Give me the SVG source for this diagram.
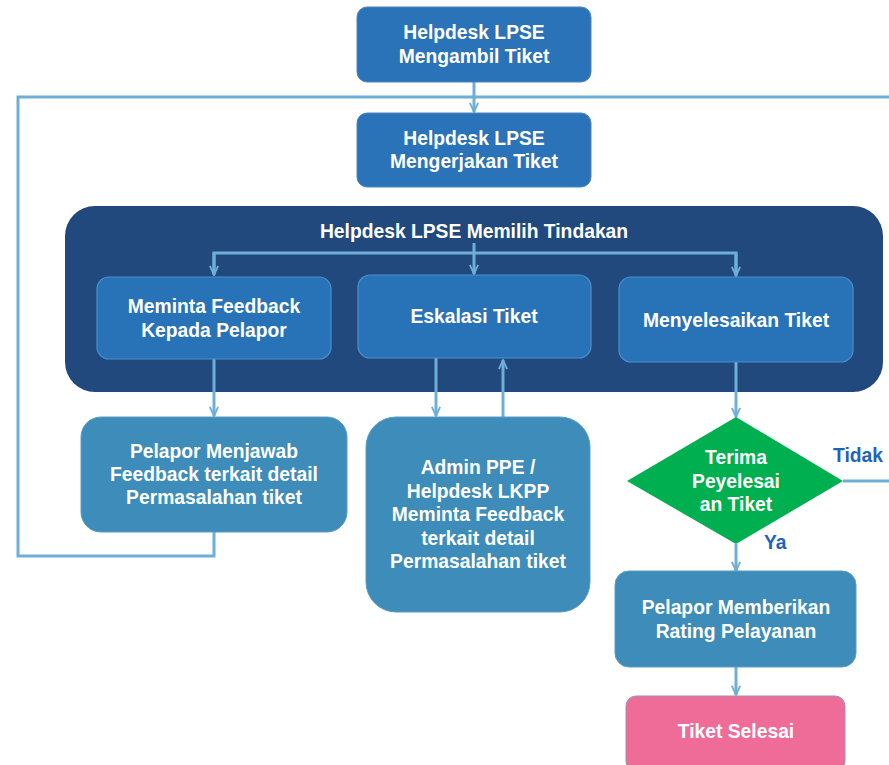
<svg xmlns="http://www.w3.org/2000/svg" width="889" height="765" viewBox="0 0 889 765">
<defs>
<marker id="arr" viewBox="0 0 12 12" refX="11" refY="6" markerWidth="11" markerHeight="11" orient="auto" markerUnits="userSpaceOnUse">
<path d="M1,1.5 L11,6 L1,10.5" fill="none" stroke="#6FAED6" stroke-width="2"/>
</marker>
</defs>
<style>
text{font-family:"Liberation Sans",Arial,sans-serif;font-weight:bold;fill:#fff;text-anchor:middle;font-size:19.3px}
.dark{fill:#2A73B8;stroke:#4A86C0;stroke-width:1}
.cont{fill:#21497E}
.inner{fill:#2872B8;stroke:#4C8FC9;stroke-width:1.2}
.light{fill:#3E8CB9;stroke:#5A9CC6;stroke-width:1}
.dia{fill:#00B050}
.pink{fill:#F06C98;stroke:#9B90B0;stroke-width:1}
.con{fill:none;stroke:#6FAED6;stroke-width:3}
.lbl{fill:#1F63B8;text-anchor:start}
</style>
<rect width="889" height="765" fill="#fff"/>
<g id="container">
<rect class="cont" x="65" y="206" width="818" height="186" rx="30"/>
<text x="474" y="238">Helpdesk LPSE Memilih Tindakan</text>
</g>
<g id="connectors">
<polyline class="con" points="214,532 214,556 18,556 18,97 889,97"/>
<line class="con" x1="474" y1="82" x2="474" y2="112" marker-end="url(#arr)"/>
<polyline class="con" points="474,243 474,253"/>
<polyline class="con" points="214,274 214,253 736,253 736,274"/>
<line class="con" x1="214" y1="253" x2="214" y2="275" marker-end="url(#arr)"/>
<line class="con" x1="474" y1="253" x2="474" y2="274" marker-end="url(#arr)"/>
<line class="con" x1="736" y1="253" x2="736" y2="276" marker-end="url(#arr)"/>
<line class="con" x1="214" y1="359" x2="214" y2="416" marker-end="url(#arr)"/>
<line class="con" x1="436" y1="358" x2="436" y2="416" marker-end="url(#arr)"/>
<line class="con" x1="503" y1="417" x2="503" y2="360" marker-end="url(#arr)"/>
<line class="con" x1="736" y1="362" x2="736" y2="417" marker-end="url(#arr)"/>
<line class="con" x1="843" y1="481" x2="889" y2="481"/>
<line class="con" x1="736" y1="544" x2="736" y2="571" marker-end="url(#arr)"/>
<line class="con" x1="736" y1="667" x2="736" y2="695" marker-end="url(#arr)"/>
</g>
<g id="n-ambil">
<rect class="dark" x="357" y="7" width="234" height="75" rx="10"/>
<text x="474" y="39">Helpdesk LPSE</text>
<text x="474" y="63">Mengambil Tiket</text>
</g>
<g id="n-kerjakan">
<rect class="dark" x="357" y="113" width="234" height="74" rx="10"/>
<text x="474" y="145">Helpdesk LPSE</text>
<text x="474" y="168">Mengerjakan Tiket</text>
</g>
<g id="n-feedback">
<rect class="inner" x="97" y="277" width="234" height="82" rx="12"/>
<text x="214" y="313">Meminta Feedback</text>
<text x="214" y="337">Kepada Pelapor</text>
</g>
<g id="n-eskalasi">
<rect class="inner" x="358" y="275" width="233" height="83" rx="12"/>
<text x="474" y="323">Eskalasi Tiket</text>
</g>
<g id="n-selesaikan">
<rect class="inner" x="619" y="277" width="234" height="85" rx="12"/>
<text x="736" y="327">Menyelesaikan Tiket</text>
</g>
<g id="n-jawab">
<rect class="light" x="81" y="417" width="266" height="115" rx="20"/>
<text x="214" y="458">Pelapor Menjawab</text>
<text x="214" y="481">Feedback terkait detail</text>
<text x="214" y="504">Permasalahan tiket</text>
</g>
<g id="n-admin">
<rect class="light" x="366" y="417" width="224" height="195" rx="30"/>
<text x="478" y="474">Admin PPE /</text>
<text x="478" y="498">Helpdesk LKPP</text>
<text x="478" y="521">Meminta Feedback</text>
<text x="478" y="545">terkait detail</text>
<text x="478" y="568">Permasalahan tiket</text>
</g>
<g id="n-terima">
<polygon class="dia" points="736,417 843,481 736,544 627,481"/>
<text x="736" y="464">Terima</text>
<text x="736" y="488">Peyelesai</text>
<text x="736" y="511">an Tiket</text>
<text class="lbl" x="833" y="462">Tidak</text>
<text class="lbl" x="764" y="549">Ya</text>
</g>
<g id="n-rating">
<rect class="light" x="615" y="571" width="241" height="96" rx="14"/>
<text x="736" y="614">Pelapor Memberikan</text>
<text x="736" y="638">Rating Pelayanan</text>
</g>
<g id="n-selesai">
<rect class="pink" x="626" y="696" width="219" height="75" rx="10"/>
<text x="736" y="738">Tiket Selesai</text>
</g>
</svg>
